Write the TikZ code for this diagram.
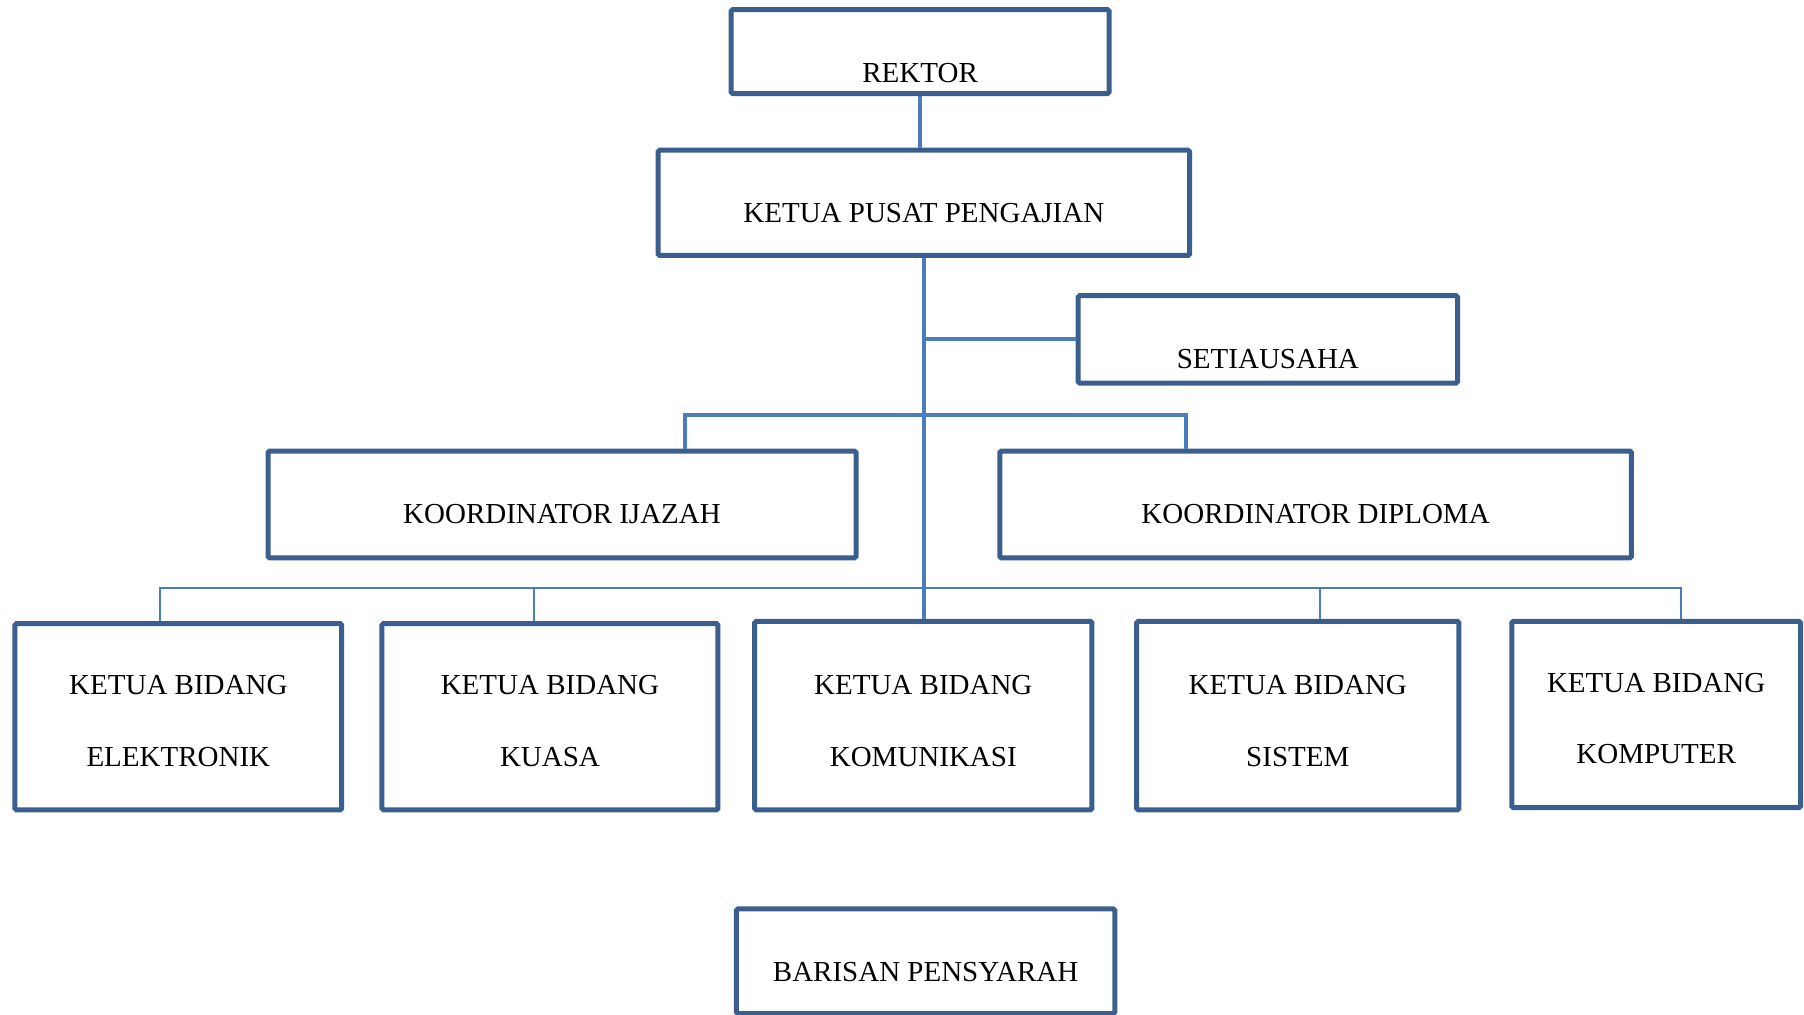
\documentclass[tikz,border=0pt]{standalone}
\usepackage{fontspec}
\setmainfont{Liberation Serif}
\usepackage{tikz}
\usetikzlibrary{positioning}
\definecolor{boxblue}{HTML}{3A5F8E}
\definecolor{lineblue}{HTML}{4A7EBB}

\begin{document}
\begin{tikzpicture}
	[ x=0.57526pt, y=-0.57526pt,
		office/.style={rectangle,draw=boxblue,line width=2.5pt,rounded corners=0.8pt,inner xsep=0pt,inner ysep=0pt,
			font=\fontsize{14.5pt}{35.7pt}\selectfont,align=center},
		single/.style={office,text height=36.2pt,text depth=#1},
		bidang/.style={office,text height=71.3pt,text depth=21.9pt},
		officeLine/.style={draw=lineblue,line width=2pt},
		thinLine/.style={draw=lineblue,line width=1pt}]

	\useasboundingbox (0,0) rectangle (1568,882);

	\node[single=5.75pt,minimum width=189pt] (rektor) at (799.75,44.85) {REKTOR};
	\node[single=16.68pt,text height=35.95pt,minimum width=265.8pt] (ketua) at (803,176.25) {KETUA PUSAT PENGAJIAN};
	\node[single=7.48pt,minimum width=189.8pt] (setiausaha) at (1102,295) {SETIAUSAHA};

	\node[single=17.26pt,minimum width=294pt] (ijazah) at (488.5,438.5) {KOORDINATOR IJAZAH};
	\node[single=17.26pt,minimum width=315.8pt] (diploma) at (1143.5,438.5) {KOORDINATOR DIPLOMA};

	\node[bidang,minimum width=163.4pt] (elektronik) at (155,623) {KETUA BIDANG\\ELEKTRONIK};
	\node[bidang,minimum width=168pt] (kuasa) at (478,623) {KETUA BIDANG\\KUASA};
	\node[bidang,text height=72.4pt,minimum width=168.6pt] (komunikasi) at (802.5,622) {KETUA BIDANG\\KOMUNIKASI};
	\node[bidang,text height=72.4pt,minimum width=161.1pt] (sistem) at (1128,622) {KETUA BIDANG\\SISTEM};
	\node[bidang,minimum width=144.4pt] (komputer) at (1439.5,621) {KETUA BIDANG\\KOMPUTER};

	\node[single=16.1pt,minimum width=189.3pt] (barisan) at (804.5,835.5) {BARISAN PENSYARAH};

	\coordinate (koord split) at (802,361);
	\coordinate (bidang split) at (802,511);

	\draw[officeLine] (rektor.south) -- (rektor.south |- ketua.north);
	\draw[officeLine] (ketua.south) -- (ketua.south |- komunikasi.north);
	\draw[officeLine] (ketua.south |- setiausaha.west) -- (setiausaha.west);
	\draw[officeLine] ([xshift=61.3pt]ijazah.north) |- (koord split) -| ([xshift=-64.7pt]diploma.north);

	\draw[thinLine] ([xshift=-9.2pt]elektronik.north) |- (bidang split) -| ([xshift=12.4pt]komputer.north);
	\draw[thinLine] ([xshift=-8.1pt]kuasa.north) -- ([xshift=-8.1pt]kuasa.north |- bidang split);
	\draw[thinLine] ([xshift=10.9pt]sistem.north) -- ([xshift=10.9pt]sistem.north |- bidang split);
\end{tikzpicture}
\end{document}
